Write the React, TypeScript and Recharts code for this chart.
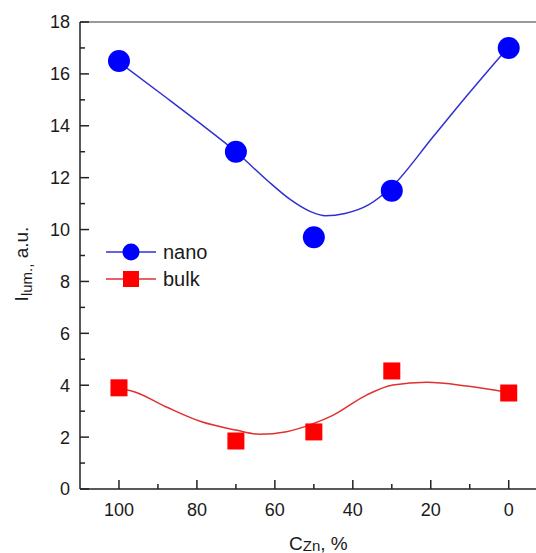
import React from 'react';
import { ComposedChart, Line, Scatter, XAxis, YAxis, ReferenceLine } from 'recharts';

const xValues = [100, 70, 50, 30, 0];
const nanoValues = [16.5, 13.0, 9.7, 11.5, 17.0];
const bulkValues = [3.9, 1.85, 2.2, 4.55, 3.7];

const nanoFitX = [100, 88, 79, 70, 62, 56, 51, 47, 42, 36, 30, 19.4, 10.8, 0];
const nanoFitY = [16.45, 15.1, 14.07, 13.0, 11.9, 11.15, 10.7, 10.53, 10.62, 10.95, 11.65, 13.58, 15.15, 17.05];

const bulkFitX = [100, 97, 88, 79, 70, 64, 57, 50, 45, 36.5, 29.7, 21, 10.8, 0];
const bulkFitY = [3.84, 3.79, 3.17, 2.6, 2.27, 2.11, 2.21, 2.53, 2.85, 3.62, 4.01, 4.11, 3.97, 3.72];

const xTicks = [100, 90, 80, 70, 60, 50, 40, 30, 20, 10, 0];
const yTicks = [0, 1, 2, 3, 4, 5, 6, 7, 8, 9, 10, 11, 12, 13, 14, 15, 16, 17, 18];

const nanoPts = xValues.map((x, i) => ({ x, y: nanoValues[i] }));
const bulkPts = xValues.map((x, i) => ({ x, y: bulkValues[i] }));
const nanoFit = nanoFitX.map((x, i) => ({ x, y: nanoFitY[i] }));
const bulkFit = bulkFitX.map((x, i) => ({ x, y: bulkFitY[i] }));

const FONT = '"Liberation Sans", Arial, sans-serif';
const AXIS = '#222';

const XTick = (props: any) => {
  const { x, y, payload } = props;
  const major = payload.value % 20 === 0;
  return (
    <g>
      <line x1={x} x2={x} y1={y} y2={y - (major ? 9 : 5)} stroke={AXIS} strokeWidth={1.5} />
      {major && (
        <text x={x} y={y + 27} textAnchor="middle" fontSize={18} fill="#1a1a1a" fontFamily={FONT}>
          {payload.value}
        </text>
      )}
    </g>
  );
};

const YTick = (props: any) => {
  const { x, y, payload } = props;
  const major = payload.value % 2 === 0;
  return (
    <g>
      <line x1={x} x2={x + (major ? 9 : 5)} y1={y} y2={y} stroke={AXIS} strokeWidth={1.5} />
      {major && (
        <text x={x - 10} y={y} dy="0.36em" textAnchor="end" fontSize={18} fill="#1a1a1a" fontFamily={FONT}>
          {payload.value}
        </text>
      )}
    </g>
  );
};

const XTitle = () => (
  <text x={289} y={550} fontSize={19} fill="#1a1a1a" fontFamily={FONT}>
    C<tspan fontSize={15} dy={1}>Zn</tspan><tspan dy={-1}>, %</tspan>
  </text>
);

const YTitle = () => (
  <text
    x={0}
    y={0}
    transform="translate(28,264) rotate(-90)"
    textAnchor="middle"
    fontSize={19}
    fill="#1a1a1a"
    fontFamily={FONT}
  >
    I<tspan fontSize={15} dy={4}>lum.,</tspan><tspan dy={-4}> a.u.</tspan>
  </text>
);

const Circle = (props: any) => <circle cx={props.cx} cy={props.cy} r={11} fill="#0000ff" />;
const Square = (props: any) => (
  <rect x={props.cx - 8.5} y={props.cy - 8.5} width={17} height={17} fill="#ff0000" />
);

const LegendBox = () => (
  <svg width={130} height={60} style={{ position: 'absolute', left: 100, top: 236, display: 'block' }}>
    <line x1={6} x2={56} y1={16} y2={16} stroke="#3030d0" strokeWidth={1.5} />
    <circle cx={31} cy={16} r={8.5} fill="#0000ff" />
    <text x={63} y={16} dy="0.36em" fontSize={20} fill="#1a1a1a" fontFamily={FONT}>nano</text>
    <line x1={6} x2={56} y1={43} y2={43} stroke="#e03030" strokeWidth={1.5} />
    <rect x={23} y={35} width={16} height={16} fill="#ff0000" />
    <text x={63} y={43} dy="0.36em" fontSize={20} fill="#1a1a1a" fontFamily={FONT}>bulk</text>
  </svg>
);

export default function App() {
  return (
    <div style={{ position: 'absolute', left: 0, top: 0, width: 536, height: 553, background: '#fff' }}>
      <ComposedChart width={536} height={553} margin={{ top: 22, right: 0, bottom: 0, left: 0 }}>
        <XAxis
          type="number"
          dataKey="x"
          domain={[-7, 110]}
          reversed
          ticks={xTicks}
          interval={0}
          tickSize={0}
          tickMargin={0}
          tickLine={false}
          tick={<XTick />}
          axisLine={{ stroke: AXIS, strokeWidth: 1.5 }}
          height={64}
          allowDataOverflow
          label={<XTitle />}
        />
        <YAxis
          type="number"
          dataKey="y"
          domain={[0, 18]}
          ticks={yTicks}
          interval={0}
          tickSize={0}
          tickMargin={0}
          tickLine={false}
          tick={<YTick />}
          axisLine={{ stroke: AXIS, strokeWidth: 1.5 }}
          width={80}
          allowDataOverflow
          label={<YTitle />}
        />
        <ReferenceLine y={18} stroke="#777" strokeWidth={1.5} />
        <Line
          data={nanoFit}
          dataKey="y"
          type="monotone"
          stroke="#3030d0"
          strokeWidth={1.5}
          dot={false}
          activeDot={false}
          isAnimationActive={false}
        />
        <Line
          data={bulkFit}
          dataKey="y"
          type="monotone"
          stroke="#e03030"
          strokeWidth={1.5}
          dot={false}
          activeDot={false}
          isAnimationActive={false}
        />
        <Scatter data={nanoPts} dataKey="y" shape={<Circle />} isAnimationActive={false} />
        <Scatter data={bulkPts} dataKey="y" shape={<Square />} isAnimationActive={false} />
      </ComposedChart>
      <LegendBox />
    </div>
  );
}
